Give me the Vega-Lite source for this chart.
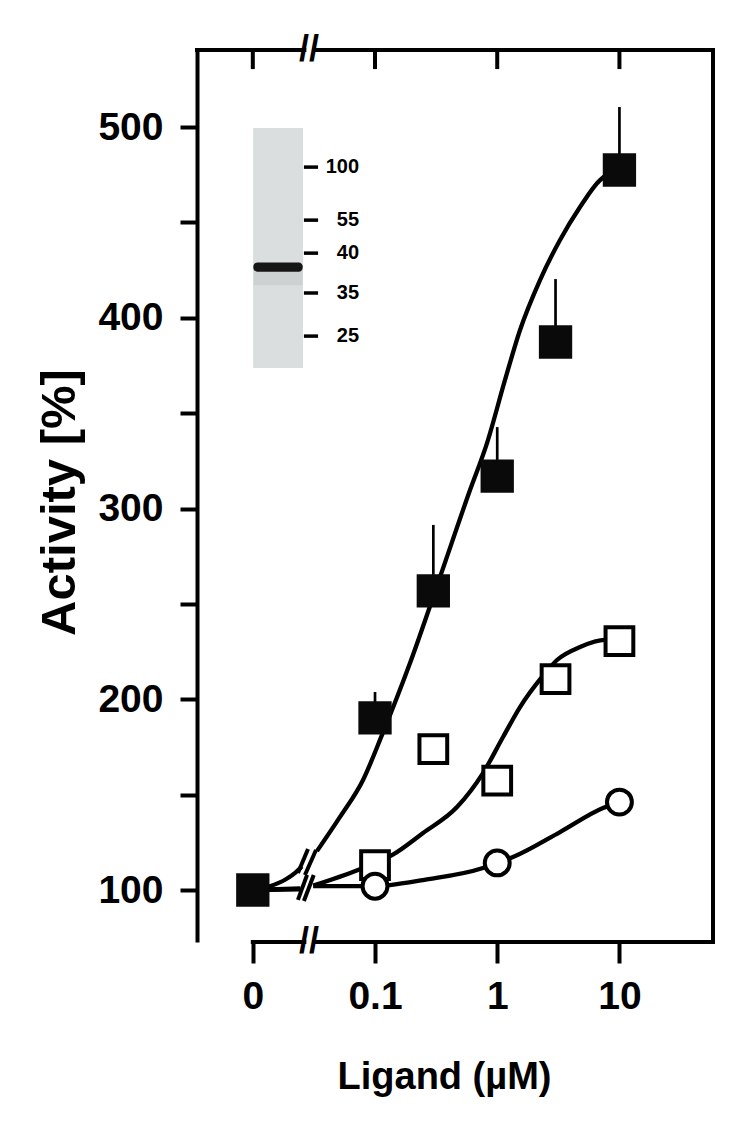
{
  "$schema": "https://vega.github.io/schema/vega-lite/v6.json",
  "description": "Activity versus ligand concentration, three series with fitted curves and a gel inset.",
  "width": 516,
  "height": 892,
  "autosize": "none",
  "padding": {"left": 197, "top": 50, "right": 40, "bottom": 200},
  "background": "white",
  "config": {
    "view": {"stroke": null},
    "font": "Liberation Sans",
    "axis": {"labelFont": "Liberation Sans", "titleFont": "Liberation Sans", "grid": false}
  },
  "data": {"values": [{}]},
  "datasets": {
    "points": [
      {"series": "filled", "conc": 0.01, "activity": 100, "upper": null},
      {"series": "filled", "conc": 0.1, "activity": 190.2, "upper": 203.8},
      {"series": "filled", "conc": 0.3, "activity": 256.8, "upper": 291.4},
      {"series": "filled", "conc": 1, "activity": 317, "upper": 342.7},
      {"series": "filled", "conc": 3, "activity": 387.3, "upper": 420.3},
      {"series": "filled", "conc": 10, "activity": 477.5, "upper": 510.5},
      {"series": "open", "conc": 0.01, "activity": 100, "upper": null},
      {"series": "open", "conc": 0.1, "activity": 113, "upper": null},
      {"series": "open", "conc": 0.3, "activity": 173.9, "upper": null},
      {"series": "open", "conc": 1, "activity": 157.4, "upper": null},
      {"series": "open", "conc": 3, "activity": 210.6, "upper": null},
      {"series": "open", "conc": 10, "activity": 230.5, "upper": null},
      {"series": "circle", "conc": 0.01, "activity": 100, "upper": null},
      {"series": "circle", "conc": 0.1, "activity": 102, "upper": null},
      {"series": "circle", "conc": 1, "activity": 114.2, "upper": null},
      {"series": "circle", "conc": 10, "activity": 146.1, "upper": null}
    ],
    "curves": [
      {"series": "filled", "seg": "a", "conc": 0.01, "activity": 100},
      {"series": "filled", "seg": "a", "conc": 0.0138, "activity": 102},
      {"series": "filled", "seg": "a", "conc": 0.0185, "activity": 105.5},
      {"series": "filled", "seg": "a", "conc": 0.0222, "activity": 109},
      {"series": "filled", "seg": "a", "conc": 0.0252, "activity": 112.3},
      {"series": "filled", "seg": "b", "conc": 0.0335, "activity": 120.4},
      {"series": "filled", "seg": "b", "conc": 0.0517, "activity": 138.3},
      {"series": "filled", "seg": "b", "conc": 0.0798, "activity": 157.7},
      {"series": "filled", "seg": "b", "conc": 0.1141, "activity": 181.3},
      {"series": "filled", "seg": "b", "conc": 0.1934, "activity": 219},
      {"series": "filled", "seg": "b", "conc": 0.3403, "activity": 264.1},
      {"series": "filled", "seg": "b", "conc": 0.599, "activity": 309.7},
      {"series": "filled", "seg": "b", "conc": 0.8253, "activity": 334.3},
      {"series": "filled", "seg": "b", "conc": 1.158, "activity": 367.4},
      {"series": "filled", "seg": "b", "conc": 1.537, "activity": 393.6},
      {"series": "filled", "seg": "b", "conc": 2.24, "activity": 419.8},
      {"series": "filled", "seg": "b", "conc": 3.265, "activity": 440.8},
      {"series": "filled", "seg": "b", "conc": 4.761, "activity": 458.1},
      {"series": "filled", "seg": "b", "conc": 6.937, "activity": 472.2},
      {"series": "filled", "seg": "b", "conc": 8.698, "activity": 476.4},
      {"series": "filled", "seg": "b", "conc": 10, "activity": 477.5},
      {"series": "open", "seg": "a", "conc": 0.01, "activity": 100},
      {"series": "open", "seg": "a", "conc": 0.0245, "activity": 100.8},
      {"series": "open", "seg": "b", "conc": 0.0312, "activity": 102.3},
      {"series": "open", "seg": "b", "conc": 0.0726, "activity": 110.5},
      {"series": "open", "seg": "b", "conc": 0.1, "activity": 114.2},
      {"series": "open", "seg": "b", "conc": 0.1377, "activity": 118.3},
      {"series": "open", "seg": "b", "conc": 0.2471, "activity": 129.9},
      {"series": "open", "seg": "b", "conc": 0.4688, "activity": 143.5},
      {"series": "open", "seg": "b", "conc": 0.7651, "activity": 161.3},
      {"series": "open", "seg": "b", "conc": 1.116, "activity": 180.2},
      {"series": "open", "seg": "b", "conc": 1.537, "activity": 195.9},
      {"series": "open", "seg": "b", "conc": 2.326, "activity": 211.7},
      {"series": "open", "seg": "b", "conc": 3.086, "activity": 220.6},
      {"series": "open", "seg": "b", "conc": 4.761, "activity": 227.4},
      {"series": "open", "seg": "b", "conc": 7.625, "activity": 231.1},
      {"series": "open", "seg": "b", "conc": 10, "activity": 230.5},
      {"series": "circle", "seg": "a", "conc": 0.01, "activity": 100},
      {"series": "circle", "seg": "a", "conc": 0.0245, "activity": 100.4},
      {"series": "circle", "seg": "b", "conc": 0.0312, "activity": 102},
      {"series": "circle", "seg": "b", "conc": 0.1, "activity": 102},
      {"series": "circle", "seg": "b", "conc": 0.1327, "activity": 102.6},
      {"series": "circle", "seg": "b", "conc": 0.2471, "activity": 105.2},
      {"series": "circle", "seg": "b", "conc": 0.7651, "activity": 111.5},
      {"series": "circle", "seg": "b", "conc": 1, "activity": 114.2},
      {"series": "circle", "seg": "b", "conc": 1.347, "activity": 117.3},
      {"series": "circle", "seg": "b", "conc": 3.265, "activity": 130.4},
      {"series": "circle", "seg": "b", "conc": 7.339, "activity": 143},
      {"series": "circle", "seg": "b", "conc": 10, "activity": 146.1}
    ],
    "markers": [
      {"kDa": "100", "pos": 479.0},
      {"kDa": "55", "pos": 451.2},
      {"kDa": "40", "pos": 433.9},
      {"kDa": "35", "pos": 413.0},
      {"kDa": "25", "pos": 390.4}
    ],
    "topticks": [
      {"tick": 0.01}, {"tick": 0.1}, {"tick": 1}, {"tick": 10}
    ]
  },
  "layer": [
    {
      "data": {"name": "curves"},
      "mark": {"type": "line", "interpolate": "monotone", "color": "black", "strokeWidth": 4.3},
      "encoding": {
        "x": {
          "field": "conc",
          "type": "quantitative",
          "scale": {"type": "log", "domain": [0.003494, 58.3], "nice": false},
          "axis": {
            "domain": false,
            "values": [0.01, 0.1, 1, 10],
            "labelExpr": "datum.value < 0.05 ? '0' : format(datum.value, '~g')",
            "tickSize": 21,
            "tickWidth": 4,
            "tickColor": "black",
            "labelFontSize": 39,
            "labelFontWeight": "bold",
            "labelColor": "black",
            "labelPadding": 14,
            "labelFlush": false,
            "labelOverlap": false,
            "title": "Ligand (µM)",
            "titleFontSize": 38,
            "titleFontWeight": "bold",
            "titleColor": "black",
            "titlePadding": 42,
            "titleX": 247
          }
        },
        "y": {
          "field": "activity",
          "type": "quantitative",
          "scale": {"domain": [72.74, 540.4], "nice": false, "zero": false},
          "axis": {
            "values": [100, 150, 200, 250, 300, 350, 400, 450, 500],
            "labelExpr": "datum.value % 100 === 0 ? datum.label : ''",
            "domainColor": "black",
            "domainWidth": 4,
            "tickSize": 17,
            "tickWidth": 4,
            "tickColor": "black",
            "labelFontSize": 39,
            "labelFontWeight": "bold",
            "labelColor": "black",
            "labelPadding": 17,
            "title": "Activity [%]",
            "titleFontSize": 49,
            "titleFontWeight": "bold",
            "titleColor": "black",
            "titlePadding": 13,
            "titleY": 452
          }
        },
        "detail": [{"field": "series"}, {"field": "seg"}]
      }
    },
    {
      "mark": {"type": "rect", "fill": "#dadede"},
      "encoding": {
        "x": {"datum": 0.01005, "type": "quantitative"},
        "x2": {"datum": 0.02576},
        "y": {"datum": 499.5, "type": "quantitative"},
        "y2": {"datum": 373.7}
      }
    },
    {
      "mark": {"type": "rect", "fill": "#cdd1d1"},
      "encoding": {
        "x": {"datum": 0.0102, "type": "quantitative"},
        "x2": {"datum": 0.0255},
        "y": {"datum": 425, "type": "quantitative"},
        "y2": {"datum": 417}
      }
    },
    {
      "mark": {"type": "rect", "fill": "#161616", "cornerRadius": 4},
      "encoding": {
        "x": {"datum": 0.0101, "type": "quantitative"},
        "x2": {"datum": 0.0256},
        "y": {"datum": 429, "type": "quantitative"},
        "y2": {"datum": 424.2}
      }
    },
    {
      "data": {"name": "markers"},
      "mark": {"type": "rule", "color": "black", "strokeWidth": 3.5},
      "encoding": {
        "x": {"datum": 0.0262, "type": "quantitative"},
        "x2": {"datum": 0.0342},
        "y": {"field": "pos", "type": "quantitative"}
      }
    },
    {
      "data": {"name": "markers"},
      "mark": {"type": "text", "align": "right", "baseline": "middle", "fontSize": 20, "fontWeight": "bold", "font": "Liberation Sans", "color": "black"},
      "encoding": {
        "x": {"datum": 0.074, "type": "quantitative"},
        "y": {"field": "pos", "type": "quantitative"},
        "text": {"field": "kDa"}
      }
    },
    {
      "mark": {"type": "rule", "color": "black", "strokeWidth": 4, "strokeCap": "square"},
      "encoding": {
        "x": {"datum": 0.003494, "type": "quantitative"},
        "x2": {"datum": 0.0264},
        "y": {"datum": 540.4, "type": "quantitative"}
      }
    },
    {
      "mark": {"type": "rule", "color": "black", "strokeWidth": 4, "strokeCap": "square"},
      "encoding": {
        "x": {"datum": 0.0317, "type": "quantitative"},
        "x2": {"datum": 58.3},
        "y": {"datum": 540.4, "type": "quantitative"}
      }
    },
    {
      "mark": {"type": "rule", "color": "black", "strokeWidth": 4, "strokeCap": "square"},
      "encoding": {
        "x": {"datum": 58.3, "type": "quantitative"},
        "y": {"datum": 72.74, "type": "quantitative"},
        "y2": {"datum": 540.4}
      }
    },
    {
      "mark": {"type": "rule", "color": "black", "strokeWidth": 4, "strokeCap": "square"},
      "encoding": {
        "x": {"datum": 0.01, "type": "quantitative"},
        "x2": {"datum": 0.0264},
        "y": {"datum": 72.74, "type": "quantitative"}
      }
    },
    {
      "mark": {"type": "rule", "color": "black", "strokeWidth": 4, "strokeCap": "square"},
      "encoding": {
        "x": {"datum": 0.0317, "type": "quantitative"},
        "x2": {"datum": 58.3},
        "y": {"datum": 72.74, "type": "quantitative"}
      }
    },
    {
      "data": {"name": "topticks"},
      "mark": {"type": "rule", "color": "black", "strokeWidth": 4},
      "encoding": {
        "x": {"field": "tick", "type": "quantitative"},
        "y": {"datum": 540.4, "type": "quantitative"},
        "y2": {"datum": 530.4}
      }
    },
    {
      "mark": {"type": "text", "text": "//", "fontSize": 36, "fontWeight": "bold", "font": "Liberation Sans", "align": "center", "baseline": "middle", "color": "black"},
      "encoding": {
        "x": {"datum": 0.0288, "type": "quantitative"},
        "y": {"datum": 540.4, "type": "quantitative"}
      }
    },
    {
      "mark": {"type": "text", "text": "//", "fontSize": 36, "fontWeight": "bold", "font": "Liberation Sans", "align": "center", "baseline": "middle", "color": "black"},
      "encoding": {
        "x": {"datum": 0.0288, "type": "quantitative"},
        "y": {"datum": 72.74, "type": "quantitative"}
      }
    },
    {
      "mark": {"type": "rule", "color": "black", "strokeWidth": 4},
      "encoding": {
        "x": {"datum": 0.0234, "type": "quantitative"},
        "x2": {"datum": 0.0283},
        "y": {"datum": 108.9, "type": "quantitative"},
        "y2": {"datum": 121.5}
      }
    },
    {
      "mark": {"type": "rule", "color": "black", "strokeWidth": 4},
      "encoding": {
        "x": {"datum": 0.0267, "type": "quantitative"},
        "x2": {"datum": 0.0329},
        "y": {"datum": 107.9, "type": "quantitative"},
        "y2": {"datum": 121.0}
      }
    },
    {
      "mark": {"type": "rule", "color": "black", "strokeWidth": 4},
      "encoding": {
        "x": {"datum": 0.0234, "type": "quantitative"},
        "x2": {"datum": 0.0278},
        "y": {"datum": 94.8, "type": "quantitative"},
        "y2": {"datum": 107.9}
      }
    },
    {
      "mark": {"type": "rule", "color": "black", "strokeWidth": 4},
      "encoding": {
        "x": {"datum": 0.0262, "type": "quantitative"},
        "x2": {"datum": 0.0315},
        "y": {"datum": 94.2, "type": "quantitative"},
        "y2": {"datum": 107.9}
      }
    },
    {
      "data": {"name": "points"},
      "transform": [{"filter": "datum.upper != null"}],
      "mark": {"type": "rule", "color": "black", "strokeWidth": 2.7},
      "encoding": {
        "x": {"field": "conc", "type": "quantitative"},
        "y": {"field": "activity", "type": "quantitative"},
        "y2": {"field": "upper"}
      }
    },
    {
      "data": {"name": "points"},
      "transform": [{"filter": "datum.series === 'open' && datum.conc > 0.05"}],
      "mark": {"type": "point", "shape": "square", "size": 770, "fill": "white", "stroke": "black", "strokeWidth": 4, "opacity": 1, "filled": false},
      "encoding": {
        "x": {"field": "conc", "type": "quantitative"},
        "y": {"field": "activity", "type": "quantitative"}
      }
    },
    {
      "data": {"name": "points"},
      "transform": [{"filter": "datum.series === 'circle' && datum.conc > 0.05"}],
      "mark": {"type": "point", "shape": "circle", "size": 620, "fill": "white", "stroke": "black", "strokeWidth": 4, "opacity": 1, "filled": false},
      "encoding": {
        "x": {"field": "conc", "type": "quantitative"},
        "y": {"field": "activity", "type": "quantitative"}
      }
    },
    {
      "data": {"name": "points"},
      "transform": [{"filter": "datum.series === 'filled'"}],
      "mark": {"type": "point", "shape": "square", "size": 1110, "filled": true, "color": "#0a0a0a", "opacity": 1},
      "encoding": {
        "x": {"field": "conc", "type": "quantitative"},
        "y": {"field": "activity", "type": "quantitative"}
      }
    }
  ]
}
